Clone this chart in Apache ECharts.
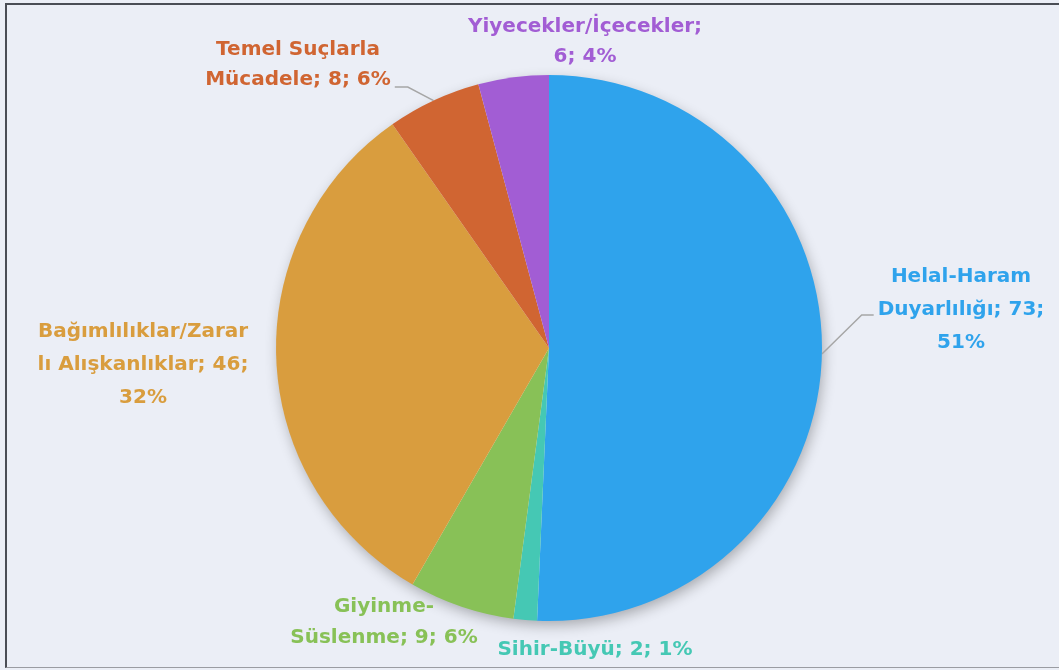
<!DOCTYPE html>
<html>
  <head>
    <meta charset="utf-8" />
    <title>ECharts</title>
    <style type="text/css">
      html, body { margin: 0; padding: 0; background: #ebeef6; }
      #frame {
        position: absolute; left: 5px; top: 3px; width: 1060px; height: 665px;
        border-left: 2px solid #4a4d55; border-top: 2px solid #4a4d55; border-bottom: 1px solid #9a9ca2;
        box-sizing: border-box; background: #ebeef6;
      }
      #main { position: absolute; left: 0; top: 0; width: 1059px; height: 670px; }
    </style>
    <script type="text/javascript" src="https://cdn.jsdelivr.net/npm/echarts@6/dist/echarts.min.js"></script>
  </head>
  <body>
    <div id="frame"></div>
    <div id="main"></div>
    <script type="text/javascript">
    // data
    var names = ['Helal-Haram Duyarlılığı', 'Sihir-Büyü', 'Giyinme-Süslenme',
      'Bağımlılıklar/Zararlı Alışkanlıklar', 'Temel Suçlarla Mücadele', 'Yiyecekler/İçecekler'];
    var values = [73, 2, 9, 46, 8, 6];
    var colors = ['#2fa3ec', '#45c8b4', '#88c157', '#d99d3e', '#d06532', '#a25dd4'];
    // how each label is broken into lines
    var labelTpl = [
      'Helal-Haram\nDuyarlılığı; {c};\n{d}%',
      'Sihir-Büyü; {c}; {d}%',
      'Giyinme-\nSüslenme; {c}; {d}%',
      'Bağımlılıklar/Zarar\nlı Alışkanlıklar; {c};\n{d}%',
      'Temel Suçlarla\nMücadele; {c}; {d}%',
      'Yiyecekler/İçecekler;\n{c}; {d}%'
    ];
    // label centres and line heights
    var labelPos = [[961, 310], [595, 650], [384, 622], [143, 365], [298, 65], [585, 42]];
    var lineH = [33, 33, 31, 33, 30, 30];

    var dom = document.getElementById('main');
    var myChart = echarts.init(dom);
    var option;

    var total = values.reduce(function (a, b) { return a + b; }, 0);

    var data = names.map(function (n, i) {
      return {
        name: n,
        value: values[i],
        itemStyle: { color: colors[i] },
        label: { color: colors[i], formatter: labelTpl[i], lineHeight: lineH[i] },
        labelLine: { show: i === 0 || i === 4 }
      };
    });

    option = {
      animation: false,
      series: [
        {
          // soft shadow under the whole pie
          type: 'pie',
          silent: true,
          z: 1,
          center: [549, 348],
          radius: 272,
          label: { show: false },
          labelLine: { show: false },
          itemStyle: {
            color: '#ebeef6',
            shadowBlur: 14,
            shadowOffsetX: 2,
            shadowOffsetY: 5,
            shadowColor: 'rgba(0,0,0,0.30)'
          },
          data: [{ name: '', value: total }]
        },
        {
          type: 'pie',
          z: 2,
          center: [549, 348],
          radius: 273,
          startAngle: 90,
          clockwise: true,
          percentPrecision: 0,
          data: data,
          label: {
            fontFamily: 'DejaVu Sans',
            fontWeight: 'bold',
            fontSize: 20,
            align: 'center'
          },
          labelLine: {
            lineStyle: { color: '#a6a6a6', width: 1.5 }
          },
          labelLayout: function (params) {
            var i = params.dataIndex;
            var p = labelPos[i];
            var out = { x: p[0], y: p[1], align: 'center', verticalAlign: 'middle' };
            var pts = params.labelLinePoints;
            if (pts && pts.length) {
              var w = params.labelRect.width;
              var a = pts[0];
              if (a[0] > p[0]) {
                // label is left of the slice: attach at the right end of the last line
                var ex = p[0] + w / 2 + 4, ey = p[1] + 22;
                out.labelLinePoints = [a, [ex + 13, ey], [ex, ey]];
              } else {
                var ex2 = p[0] - w / 2 - 4, ey2 = p[1] + 5;
                out.labelLinePoints = [a, [ex2 - 12, ey2], [ex2, ey2]];
              }
            }
            return out;
          }
        }
      ]
    };

    if (option && typeof option === 'object') {
      myChart.setOption(option);
    }
    </script>
  </body>
</html>
